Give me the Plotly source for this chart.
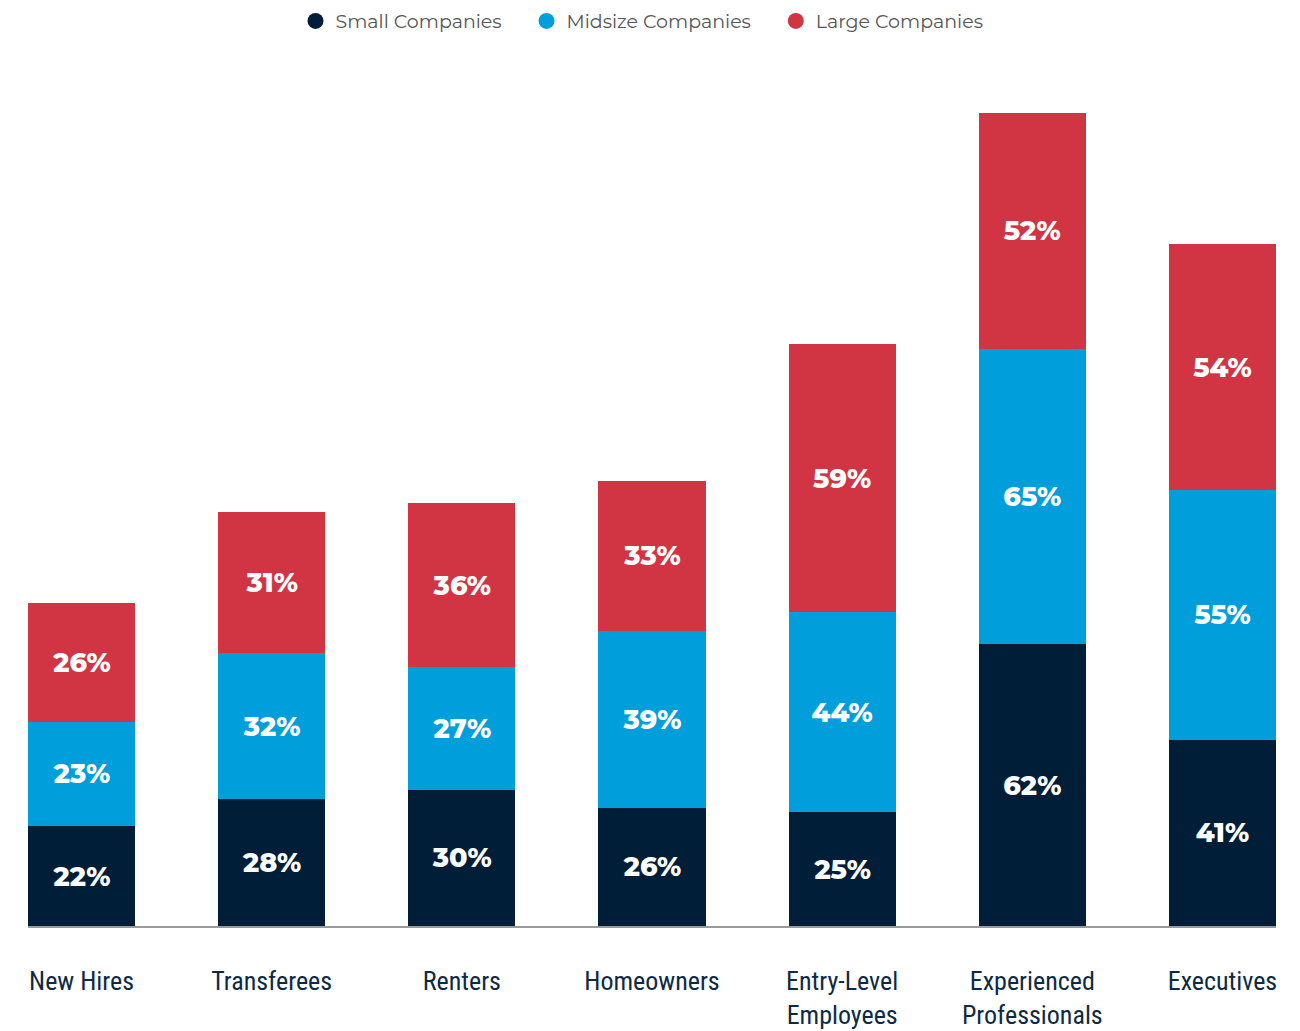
import plotly.graph_objects as go

categories = ["New Hires", "Transferees", "Renters", "Homeowners",
              "Entry-Level<br>Employees", "Experienced<br>Professionals", "Executives"]
small = [22, 28, 30, 26, 25, 62, 41]
midsize = [23, 32, 27, 39, 44, 65, 55]
large = [26, 31, 36, 33, 59, 52, 54]

series = [
    ("Small Companies", small, "#011e38"),
    ("Midsize Companies", midsize, "#009edb"),
    ("Large Companies", large, "#d13443"),
]

PAD = "\u00a0" * 4
xpos = list(range(len(categories)))
fig = go.Figure()
for name, vals, color in series:
    fig.add_trace(go.Bar(
        x=xpos, y=vals, name=name, marker=dict(color=color, line=dict(width=0)),
        width=0.563, text=[f"{v}%" for v in vals], textposition="inside",
        insidetextanchor="middle", textangle=0, constraintext="none",
        textfont=dict(family="Montserrat, Lato, Open Sans", size=27, color="white", weight=800),
        showlegend=False, hoverinfo="skip",
    ))
for i, (name, vals, color) in enumerate(series):
    fig.add_trace(go.Scatter(
        x=[None], y=[None], mode="markers",
        name=name + (PAD if i < len(series) - 1 else ""),
        marker=dict(symbol="circle", size=24, color=color), showlegend=True,
    ))

fig.update_layout(
    barmode="stack",
    width=1300, height=1031,
    margin=dict(l=28, r=24, t=108, b=105, autoexpand=False),
    plot_bgcolor="white", paper_bgcolor="white",
    showlegend=True,
    legend=dict(orientation="h", x=0.492, xanchor="center", y=0.998, yanchor="top",
                yref="container", traceorder="normal",
                font=dict(family="Montserrat, Lato, Open Sans", size=19, color="#555555"),
                itemsizing="trace", itemwidth=30, tracegroupgap=0),
    xaxis=dict(range=[-0.2815, 6.2815], tickvals=xpos, ticktext=categories,
               showgrid=False, zeroline=False, showline=True, linecolor="#9a9a9a", linewidth=2,
               ticks="", ticklabelstandoff=31, automargin=False,
               tickfont=dict(family="Roboto Condensed, Liberation Sans Narrow, Roboto", size=26, color="#0d2a45")),
    yaxis=dict(range=[0, 180], visible=False, showgrid=False, zeroline=False, automargin=False),
)

fig.write_html("out.html", config={"displayModeBar": False},
               post_script="document.body.style.margin='0';")
